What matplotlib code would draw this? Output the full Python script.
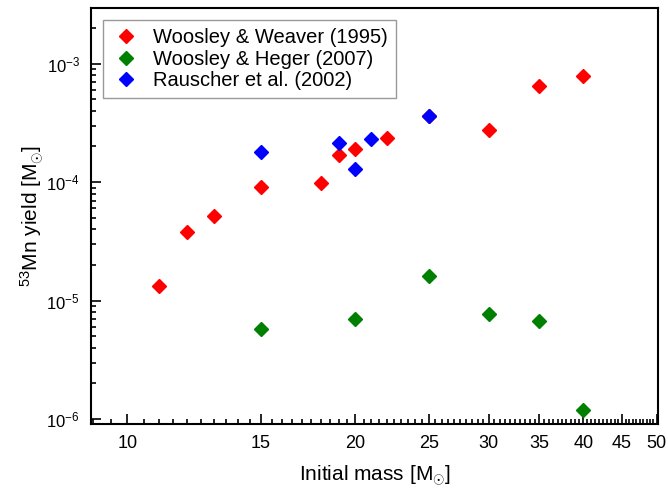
import matplotlib
matplotlib.use("Agg")
import matplotlib.pyplot as plt
import numpy as np
from matplotlib.ticker import FixedLocator, MultipleLocator, NullFormatter, LogLocator, FuncFormatter

plt.rcParams['font.family'] = ['Liberation Sans', 'DejaVu Sans']
plt.rcParams['mathtext.fontset'] = 'custom'
plt.rcParams['mathtext.rm'] = 'Liberation Sans'
plt.rcParams['mathtext.it'] = 'Liberation Sans:italic'

# data
ww_mass = [11, 12, 13, 15, 18, 19, 20, 22, 25, 30, 35, 40]
ww_yield = [1.32e-5, 3.77e-5, 5.18e-5, 9.07e-5, 9.9e-5, 1.69e-4, 1.92e-4, 2.34e-4, 3.6e-4, 2.78e-4, 6.54e-4, 7.9e-4]

wh_mass = [15, 20, 25, 30, 35, 40]
wh_yield = [5.8e-6, 7.06e-6, 1.6e-5, 7.78e-6, 6.79e-6, 1.19e-6]

ra_mass = [15, 19, 20, 21, 25]
ra_yield = [1.8e-4, 2.16e-4, 1.28e-4, 2.3e-4, 3.6e-4]

x_major = [10, 15, 20, 25, 30, 35, 40, 45, 50]

fig = plt.figure(figsize=(6.68, 4.91), dpi=100)
ax = fig.add_axes([91/668, 1-424/491, (658-91)/668, (424-8)/491])

ax.plot(ww_mass, ww_yield, 'D', color='red', markersize=6.8, linestyle='none', label='Woosley & Weaver (1995)')
ax.plot(wh_mass, wh_yield, 'D', color='green', markersize=6.8, linestyle='none', label='Woosley & Heger (2007)')
ax.plot(ra_mass, ra_yield, 'D', color='blue', markersize=6.8, linestyle='none', label='Rauscher et al. (2002)')

ax.set_xscale('log')
ax.set_yscale('log')
ax.set_xlim(8.95, 50.2)
ax.set_ylim(9.1e-7, 2.95e-3)

ax.xaxis.set_major_locator(FixedLocator(x_major))
ax.xaxis.set_major_formatter(FuncFormatter(lambda v, p: f"{v:.0f}"))
ax.xaxis.set_minor_locator(MultipleLocator(0.5))
ax.xaxis.set_minor_formatter(NullFormatter())

ax.yaxis.set_major_locator(LogLocator(base=10))
ax.yaxis.set_minor_locator(LogLocator(base=10, subs=np.arange(2, 10)))
ax.yaxis.set_minor_formatter(NullFormatter())

ax.tick_params(which='both', direction='in', top=False, right=False, labelsize=13, width=1.2)
ax.tick_params(axis='y', labelsize=12)
ax.tick_params(which='major', length=7, pad=8)
ax.tick_params(which='minor', length=3.5)
for s in ax.spines.values():
    s.set_linewidth(1.5)

ax.set_xlabel(r'Initial mass [M$_{\odot}$]', fontsize=15, labelpad=8)
ax.set_ylabel(r'$^{53}$Mn yield [M$_{\odot}$]', fontsize=15, labelpad=0)

leg = ax.legend(loc='upper left', fontsize=14.5, fancybox=False, edgecolor='gray',
                handletextpad=0.6, borderaxespad=0.6, labelspacing=0.12, handlelength=1.5)
leg.get_frame().set_linewidth(1.0)

fig.savefig('out.png', dpi=100)
